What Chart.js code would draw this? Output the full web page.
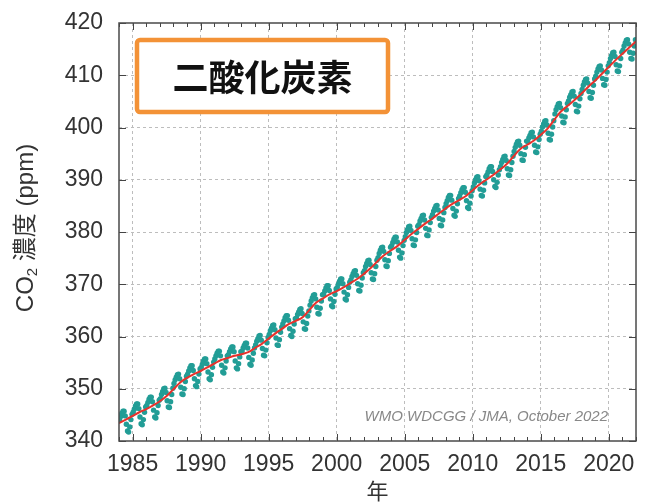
<!DOCTYPE html>
<html lang="ja">
<head>
<meta charset="utf-8">
<script src="https://cdn.jsdelivr.net/npm/chart.js@4.4.1/dist/chart.umd.min.js"></script>
<style>
html, body { margin: 0; padding: 0; background: #fff; }
#wrap { width: 645px; height: 504px; }
</style>
</head>
<body>
<div id="wrap"><canvas id="chart" width="645" height="504"></canvas></div>
<script>
// monthly CO2 (ppm), Jan 1984 .. Dec 2021, one row per year
let startYear = 1984;
let co2Monthly = [
  344.1, 344.7, 345.3, 345.7, 345.7, 344.8, 343.2, 341.9, 341.7, 342.7, 344.1, 345.1,
  345.5, 346.1, 346.7, 347.1, 347.1, 346.2, 344.6, 343.3, 343.1, 344.1, 345.5, 346.5,
  346.8, 347.4, 348.0, 348.4, 348.4, 347.5, 345.9, 344.6, 344.4, 345.4, 346.8, 347.8,
  348.1, 348.9, 349.5, 350.0, 350.1, 349.3, 347.7, 346.5, 346.4, 347.5, 348.9, 350.1,
  351.0, 351.7, 352.2, 352.7, 352.8, 351.9, 350.3, 349.0, 348.9, 350.0, 351.4, 352.4,
  352.8, 353.4, 354.0, 354.4, 354.4, 353.5, 351.9, 350.6, 350.4, 351.4, 352.8, 353.8,
  354.1, 354.7, 355.3, 355.7, 355.7, 354.8, 353.2, 351.9, 351.7, 352.7, 354.1, 355.1,
  355.7, 356.3, 356.8, 357.2, 357.2, 356.3, 354.5, 353.2, 353.0, 354.0, 355.3, 356.3,
  356.5, 357.1, 357.6, 358.0, 358.0, 357.1, 355.3, 354.0, 353.8, 354.8, 356.1, 357.1,
  357.2, 357.8, 358.3, 358.7, 358.7, 357.8, 356.0, 354.7, 354.5, 355.5, 356.8, 357.8,
  358.4, 359.1, 359.6, 360.1, 360.2, 359.3, 357.7, 356.4, 356.3, 357.4, 358.8, 359.8,
  360.4, 361.1, 361.6, 362.1, 362.2, 361.3, 359.7, 358.4, 358.3, 359.4, 360.8, 361.8,
  362.4, 363.0, 363.6, 364.0, 364.0, 363.1, 361.5, 360.2, 360.0, 361.0, 362.4, 363.4,
  363.5, 364.2, 364.7, 365.2, 365.3, 364.4, 362.8, 361.5, 361.4, 362.5, 363.9, 364.9,
  366.0, 366.8, 367.4, 367.9, 368.0, 367.2, 365.6, 364.4, 364.3, 365.4, 366.8, 368.0,
  368.1, 368.7, 369.3, 369.7, 369.7, 368.8, 367.2, 365.9, 365.7, 366.7, 368.1, 369.1,
  369.4, 370.0, 370.6, 371.0, 371.0, 370.1, 368.5, 367.2, 367.0, 368.0, 369.4, 370.4,
  370.8, 371.5, 372.0, 372.5, 372.6, 371.7, 370.1, 368.8, 368.7, 369.8, 371.2, 372.2,
  372.6, 373.4, 374.0, 374.5, 374.6, 373.8, 372.2, 371.0, 370.9, 372.0, 373.4, 374.6,
  375.1, 375.9, 376.5, 377.0, 377.1, 376.3, 374.7, 373.5, 373.4, 374.5, 375.9, 377.1,
  377.4, 378.0, 378.6, 379.0, 379.0, 378.1, 376.5, 375.2, 375.0, 376.0, 377.4, 378.4,
  379.1, 379.9, 380.5, 381.0, 381.1, 380.3, 378.7, 377.5, 377.4, 378.5, 379.9, 381.1,
  381.4, 382.1, 382.6, 383.1, 383.2, 382.3, 380.7, 379.4, 379.3, 380.4, 381.8, 382.8,
  383.3, 384.0, 384.5, 385.0, 385.1, 384.2, 382.6, 381.3, 381.2, 382.3, 383.7, 384.7,
  385.4, 386.0, 386.6, 387.0, 387.0, 386.1, 384.5, 383.2, 383.0, 384.0, 385.4, 386.4,
  386.9, 387.5, 388.1, 388.5, 388.5, 387.6, 386.0, 384.7, 384.5, 385.5, 386.9, 387.9,
  388.6, 389.4, 390.0, 390.5, 390.6, 389.8, 388.2, 387.0, 386.9, 388.0, 389.4, 390.6,
  390.9, 391.5, 392.1, 392.5, 392.5, 391.6, 390.0, 388.7, 388.5, 389.5, 390.9, 391.9,
  392.5, 393.3, 393.9, 394.4, 394.5, 393.7, 392.1, 390.9, 390.8, 391.9, 393.3, 394.5,
  395.4, 396.2, 396.8, 397.3, 397.4, 396.6, 395.0, 393.8, 393.7, 394.8, 396.2, 397.4,
  397.3, 398.0, 398.5, 399.0, 399.1, 398.2, 396.6, 395.3, 395.2, 396.3, 397.7, 398.7,
  399.3, 400.1, 400.7, 401.2, 401.3, 400.5, 398.9, 397.7, 397.6, 398.7, 400.1, 401.3,
  402.6, 403.4, 404.0, 404.5, 404.6, 403.8, 402.2, 401.0, 400.9, 402.0, 403.4, 404.6,
  405.1, 405.8, 406.3, 406.8, 406.9, 406.0, 404.4, 403.1, 403.0, 404.1, 405.5, 406.5,
  407.3, 408.1, 408.7, 409.2, 409.3, 408.5, 406.9, 405.7, 405.6, 406.7, 408.1, 409.3,
  409.8, 410.6, 411.2, 411.7, 411.8, 411.0, 409.4, 408.2, 408.1, 409.2, 410.6, 411.8,
  412.4, 413.2, 413.8, 414.3, 414.4, 413.6, 412.0, 410.8, 410.7, 411.8, 413.2, 414.4,
  414.8, 415.6, 416.2, 416.7, 416.8, 416.0, 414.4, 413.2, 413.1, 414.2, 415.6, 416.8
];

// deseasonalized trend, every half year from 1984.0 to 2022.0
let trendValues = [
  343.4, 344.1, 344.8, 345.5, 346.1, 346.8, 347.6, 348.6, 349.9, 351.2,
  352.1, 352.8, 353.4, 354.1, 354.8, 355.5, 355.9, 356.3, 356.6, 357.0,
  357.8, 358.6, 359.6, 360.6, 361.5, 362.4, 363.0, 363.7, 365.1, 366.5,
  367.3, 368.1, 368.7, 369.4, 370.2, 371.0, 372.0, 373.1, 374.4, 375.6,
  376.5, 377.4, 378.5, 379.6, 380.6, 381.6, 382.5, 383.5, 384.5, 385.4,
  386.1, 386.9, 388.0, 389.1, 390.0, 390.9, 391.9, 393.0, 394.5, 395.9,
  396.7, 397.5, 398.6, 399.8, 401.5, 403.1, 404.2, 405.3, 406.5, 407.8,
  409.0, 410.3, 411.6, 412.9, 414.1, 415.3, 416.5
];

let xTicks = [1985, 1990, 1995, 2000, 2005, 2010, 2015, 2020];
let yTicks = [340, 350, 360, 370, 380, 390, 400, 410, 420];

let title = "二酸化炭素";
let source = "WMO WDCGG / JMA, October 2022";
let xTitle = "年";

let monthPoints = co2Monthly.map((v, i) => ({ x: startYear + (i + 0.5) / 12, y: v }));
let trendPoints = trendValues.map((v, i) => ({ x: startYear + i * 0.5, y: v }));

let latin = "'Liberation Sans', Arial, 'Noto Sans CJK JP', sans-serif";

let decor = {
    id: "decor",
    afterDatasetsDraw(chart) {
        let ctx = chart.ctx;
        let a = chart.chartArea;
        let x = chart.scales.x;
        let y = chart.scales.y;
        ctx.save();

        // inward ticks on all four sides
        ctx.strokeStyle = "#444";
        ctx.lineWidth = 1;
        ctx.beginPath();
        for (let yr = Math.ceil(x.min); yr <= x.max; yr++) {
            let px = Math.round(x.getPixelForValue(yr)) + 0.5;
            let len = xTicks.includes(yr) ? 7 : 4;
            ctx.moveTo(px, a.bottom); ctx.lineTo(px, a.bottom - len);
            ctx.moveTo(px, a.top); ctx.lineTo(px, a.top + len);
        }
        yTicks.forEach(v => {
            let py = Math.round(y.getPixelForValue(v)) + 0.5;
            ctx.moveTo(a.left, py); ctx.lineTo(a.left + 7, py);
            ctx.moveTo(a.right, py); ctx.lineTo(a.right - 7, py);
        });
        ctx.stroke();

        // frame
        ctx.strokeStyle = "#4a4a4a";
        ctx.lineWidth = 1.5;
        ctx.strokeRect(a.left, a.top, a.right - a.left, a.bottom - a.top);

        // title box
        let bx = 137, by = 40, bw = 251, bh = 72;
        ctx.fillStyle = "#fff";
        ctx.strokeStyle = "#f39237";
        ctx.lineWidth = 4.5;
        ctx.beginPath();
        ctx.roundRect(bx, by, bw, bh, 3);
        ctx.fill();
        ctx.stroke();
        ctx.fillStyle = "#111";
        ctx.font = "bold 36px 'Noto Sans CJK JP', sans-serif";
        ctx.textAlign = "center";
        ctx.textBaseline = "middle";
        ctx.fillText(title, bx + bw / 2, by + bh / 2 + 1);

        // source note
        ctx.fillStyle = "#888";
        ctx.font = "italic 15px " + latin;
        ctx.textAlign = "right";
        ctx.textBaseline = "alphabetic";
        ctx.fillText(source, 608, 421);

        // x title
        ctx.fillStyle = "#333";
        ctx.font = "22px 'Noto Sans CJK JP', sans-serif";
        ctx.textAlign = "center";
        ctx.textBaseline = "middle";
        ctx.fillText(xTitle, (a.left + a.right) / 2, 491);

        // y title, with subscript 2
        ctx.translate(26, 228);
        ctx.rotate(-Math.PI / 2);
        let f1 = "24px " + latin;
        let f2 = "15px " + latin;
        let parts = [["CO", f1, 0], ["2", f2, 7], [" 濃度 (ppm)", f1, 0]];
        let total = 0;
        parts.forEach(p => { ctx.font = p[1]; total += ctx.measureText(p[0]).width; });
        let cx = -total / 2;
        ctx.textAlign = "left";
        ctx.textBaseline = "middle";
        parts.forEach(p => {
            ctx.font = p[1];
            ctx.fillText(p[0], cx, p[2]);
            cx += ctx.measureText(p[0]).width;
        });

        ctx.restore();
    }
};

new Chart(document.getElementById("chart"), {
    type: "scatter",
    data: {
        datasets: [
            {
                type: "line",
                data: trendPoints,
                borderColor: "#e8312b",
                borderWidth: 2,
                pointRadius: 0,
                tension: 0.4,
                fill: false
            },
            {
                data: monthPoints,
                backgroundColor: "#229d96",
                borderWidth: 0,
                pointRadius: 2.7
            }
        ]
    },
    options: {
        responsive: false,
        animation: false,
        layout: { padding: { left: 0, right: 9, top: 23, bottom: 0 } },
        plugins: { legend: { display: false }, tooltip: { enabled: false } },
        scales: {
            x: {
                type: "linear",
                min: 1984,
                max: 2022,
                afterBuildTicks: s => { s.ticks = xTicks.map(v => ({ value: v })); },
                afterFit: s => { s.height = 63; },
                border: { display: false, dash: [3, 3] },
                grid: { color: "#bdbdbd", drawTicks: false },
                ticks: {
                    padding: 10,
                    color: "#333",
                    font: { family: latin, size: 23 },
                    callback: v => String(v),
                    maxRotation: 0
                }
            },
            y: {
                min: 340,
                max: 420,
                afterBuildTicks: s => { s.ticks = yTicks.map(v => ({ value: v })); },
                afterFit: s => { s.width = 119; s.paddingTop = 0; s.paddingBottom = 0; },
                border: { display: false, dash: [3, 3] },
                grid: {
                    color: c => (c.tick && (c.tick.value === 340 || c.tick.value === 420)) ? "rgba(0,0,0,0)" : "#bdbdbd",
                    drawTicks: false
                },
                ticks: {
                    padding: 16,
                    color: "#333",
                    font: { family: latin, size: 23 }
                }
            }
        }
    },
    plugins: [decor]
});
</script>
</body>
</html>
